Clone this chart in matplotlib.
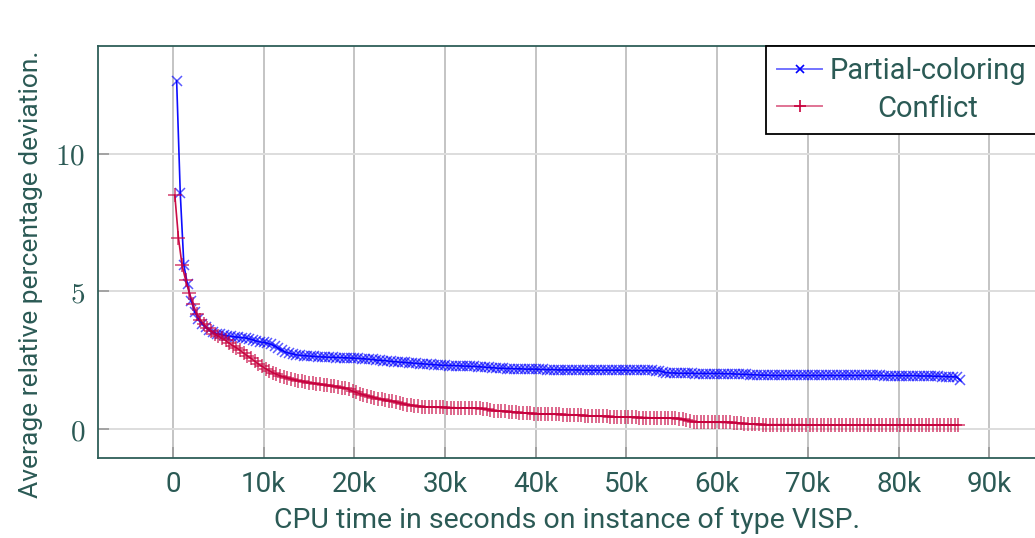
import numpy as np
import matplotlib
matplotlib.use('Agg')
import matplotlib.pyplot as plt
from matplotlib.lines import Line2D

# CPU time (s) of each sample
time_partial = np.arange(1, 218) * 400
time_conflict = np.arange(1, 218) * 400 - 200

dev_partial = [
    12.66, 8.57, 5.95, 5.26, 4.67, 4.25, 4.00, 3.82, 3.70, 3.60,
    3.52, 3.47, 3.44, 3.41, 3.39, 3.37, 3.35, 3.34, 3.32, 3.31,
    3.28, 3.24, 3.20, 3.17, 3.15, 3.12, 3.08, 3.02, 2.94, 2.86,
    2.80, 2.76, 2.73, 2.70, 2.68, 2.67, 2.66, 2.65, 2.64, 2.63,
    2.62, 2.62, 2.61, 2.61, 2.60, 2.60, 2.59, 2.59, 2.58, 2.58,
    2.57, 2.56, 2.55, 2.54, 2.53, 2.51, 2.50, 2.49, 2.48, 2.46,
    2.45, 2.44, 2.43, 2.42, 2.41, 2.40, 2.39, 2.38, 2.37, 2.36,
    2.35, 2.34, 2.33, 2.32, 2.32, 2.31, 2.31, 2.30, 2.30, 2.29,
    2.29, 2.28, 2.28, 2.27, 2.26, 2.25, 2.24, 2.23, 2.22, 2.21,
    2.21, 2.20, 2.20, 2.19, 2.19, 2.19, 2.18, 2.18, 2.18, 2.18,
    2.17, 2.17, 2.16, 2.16, 2.16, 2.15, 2.15, 2.15, 2.15, 2.15,
    2.15, 2.15, 2.14, 2.14, 2.14, 2.14, 2.14, 2.14, 2.14, 2.14,
    2.14, 2.14, 2.14, 2.14, 2.14, 2.13, 2.13, 2.13, 2.13, 2.13,
    2.13, 2.13, 2.12, 2.12, 2.08, 2.05, 2.04, 2.04, 2.03, 2.03,
    2.03, 2.03, 2.03, 2.02, 2.02, 2.02, 2.02, 2.02, 2.02, 2.02,
    2.02, 2.01, 2.01, 2.01, 2.00, 2.00, 1.99, 1.99, 1.98, 1.97,
    1.97, 1.96, 1.96, 1.96, 1.95, 1.95, 1.95, 1.95, 1.95, 1.95,
    1.95, 1.95, 1.95, 1.95, 1.95, 1.95, 1.95, 1.95, 1.95, 1.95,
    1.95, 1.95, 1.95, 1.95, 1.95, 1.95, 1.95, 1.95, 1.95, 1.95,
    1.95, 1.95, 1.95, 1.95, 1.95, 1.94, 1.94, 1.94, 1.94, 1.94,
    1.94, 1.94, 1.94, 1.94, 1.94, 1.93, 1.93, 1.93, 1.93, 1.92,
    1.92, 1.91, 1.91, 1.90, 1.90, 1.89, 1.78,
]

dev_conflict = [
    8.50, 6.95, 5.95, 5.40, 4.95, 4.55, 4.20, 3.98, 3.82, 3.66,
    3.56, 3.46, 3.38, 3.30, 3.22, 3.12, 3.03, 2.95, 2.86, 2.76,
    2.66, 2.57, 2.47, 2.37, 2.28, 2.20, 2.12, 2.05, 1.99, 1.94,
    1.90, 1.86, 1.82, 1.79, 1.76, 1.73, 1.71, 1.69, 1.67, 1.65,
    1.63, 1.61, 1.59, 1.57, 1.55, 1.53, 1.51, 1.48, 1.44, 1.38,
    1.33, 1.29, 1.25, 1.21, 1.18, 1.14, 1.11, 1.08, 1.05, 1.03,
    1.01, 0.98, 0.95, 0.92, 0.89, 0.87, 0.85, 0.83, 0.82, 0.81,
    0.80, 0.80, 0.79, 0.79, 0.79, 0.78, 0.78, 0.78, 0.77, 0.77,
    0.77, 0.76, 0.76, 0.75, 0.75, 0.74, 0.72, 0.69, 0.67, 0.66,
    0.65, 0.64, 0.63, 0.62, 0.61, 0.60, 0.59, 0.58, 0.57, 0.56,
    0.56, 0.55, 0.55, 0.55, 0.54, 0.54, 0.54, 0.53, 0.53, 0.52,
    0.52, 0.51, 0.50, 0.49, 0.48, 0.48, 0.47, 0.47, 0.46, 0.46,
    0.45, 0.45, 0.44, 0.44, 0.44, 0.43, 0.43, 0.43, 0.42, 0.42,
    0.42, 0.41, 0.41, 0.41, 0.40, 0.40, 0.40, 0.39, 0.39, 0.38,
    0.35, 0.32, 0.29, 0.27, 0.26, 0.26, 0.25, 0.25, 0.25, 0.25,
    0.25, 0.24, 0.24, 0.24, 0.23, 0.22, 0.21, 0.20, 0.19, 0.18,
    0.17, 0.17, 0.16, 0.16, 0.16, 0.16, 0.16, 0.16, 0.16, 0.16,
    0.16, 0.16, 0.16, 0.16, 0.15, 0.15, 0.15, 0.15, 0.15, 0.15,
    0.15, 0.15, 0.15, 0.15, 0.15, 0.15, 0.15, 0.15, 0.15, 0.15,
    0.15, 0.15, 0.15, 0.15, 0.15, 0.15, 0.15, 0.15, 0.15, 0.15,
    0.15, 0.15, 0.15, 0.15, 0.15, 0.15, 0.15, 0.15, 0.15, 0.15,
    0.15, 0.15, 0.15, 0.15, 0.15, 0.15, 0.15,
]

x_ticks = [0, 10000, 20000, 30000, 40000, 50000, 60000, 70000, 80000, 90000]
x_ticklabels = ['0', '10k', '20k', '30k', '40k', '50k', '60k', '70k', '80k', '90k']
y_ticks = [0, 5, 10]
labels = ['Partial-coloring', 'Conflict']

text_col = '#2b5a55'
blue = '#0000ff'
red = '#c8003c'

plt.rcParams['font.family'] = ['Roboto', 'DejaVu Sans']
plt.rcParams['mathtext.fontset'] = 'cm'

fig = plt.figure(figsize=(10.35, 5.38), dpi=100)
ax = fig.add_axes([98 / 1035, 80 / 538, 1 - 98 / 1035, 412 / 538])

ax.plot(time_partial, dev_partial, color=(0, 0, 1, 0.95), linewidth=1.2,
        marker='x', markersize=7, markeredgewidth=1.1,
        markeredgecolor=(0, 0, 1, 0.65), zorder=3)
ax.plot(time_conflict, dev_conflict, color=(0.78, 0, 0.24, 0.95), linewidth=1.2,
        marker='+', markersize=10, markeredgewidth=1.1,
        markeredgecolor=(0.78, 0, 0.24, 0.75), zorder=3)

ax.set_xlim(-8270, 95040)
ax.set_ylim(-1.05, 13.92)

ax.set_xticks(x_ticks)
ax.set_xticklabels(x_ticklabels, fontsize=20, color=text_col)
ax.set_yticks(y_ticks)
ax.set_yticklabels(['$%d$' % v for v in y_ticks], fontsize=21, color=text_col)
ax.tick_params(direction='in', length=8, width=1.2, color='#999999')
ax.tick_params(axis='x', pad=9)
ax.tick_params(axis='y', pad=9)

ax.grid(True, axis='x', color='#c4c4c4', linewidth=1.4)
ax.grid(True, axis='y', color='#dddddd', linewidth=1.4)
ax.set_axisbelow(True)

for side in ['left', 'top', 'bottom']:
    ax.spines[side].set_color('#2e5e58')
    ax.spines[side].set_linewidth(1.3)
ax.spines['right'].set_visible(False)

ax.set_xlabel('CPU time in seconds on instance of type VISP.',
              fontsize=20.5, color=text_col, labelpad=7)
ax.set_ylabel('Average relative percentage deviation.', fontsize=19,
              color=text_col)
ax.yaxis.set_label_coords(-0.059, 0.446)

handles = [
    Line2D([], [], color=(0, 0, 1, 0.55), linewidth=1.4, marker='x',
           markersize=6, markeredgewidth=1.2, markeredgecolor=blue),
    Line2D([], [], color=(0.78, 0, 0.24, 0.55), linewidth=1.4, marker='+',
           markersize=9, markeredgewidth=1.2, markeredgecolor=red),
]
leg = ax.legend(handles, labels, loc='upper left', mode='expand',
                bbox_to_anchor=(0.713, 0, 0.32, 1.0), borderaxespad=0,
                fancybox=False, framealpha=1, edgecolor='black',
                fontsize=21, handlelength=1.55, handletextpad=0.24,
                borderpad=0.38, labelspacing=0.33)
leg.get_frame().set_linewidth(1.3)
for t in leg.get_texts():
    t.set_color(text_col)

# centre the shorter legend entry like the original
fig.canvas.draw()
w = [t.get_window_extent().width for t in leg.get_texts()]
leg.get_texts()[1].set_x((w[0] - w[1]) / 2)

fig.savefig('out.png', dpi=100)
